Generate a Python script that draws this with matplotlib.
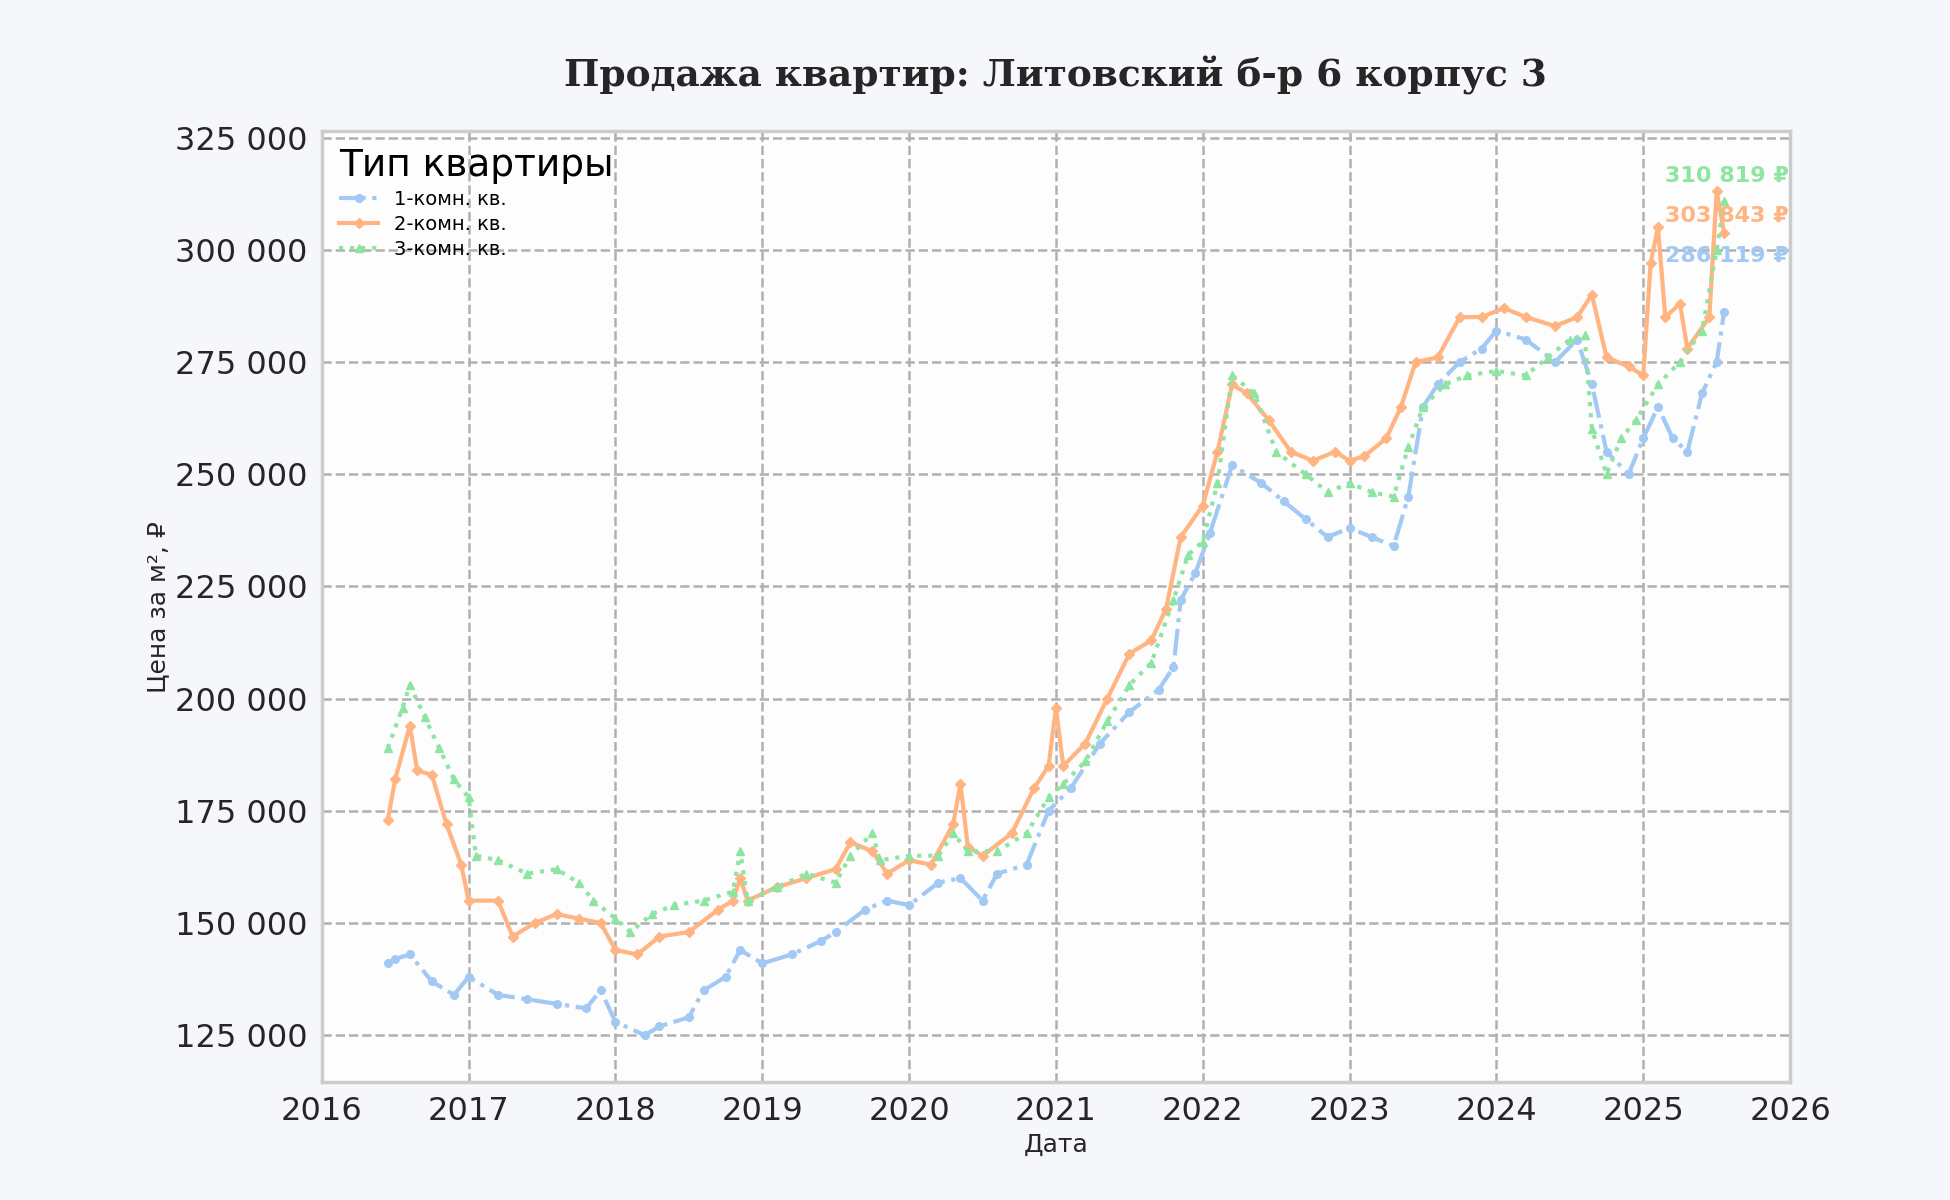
import matplotlib
matplotlib.use("Agg")
import matplotlib.pyplot as plt
import matplotlib.ticker as mticker

# years as decimal, prices per m2
t1 = [2016.45, 2016.5, 2016.6, 2016.75, 2016.9, 2017.0, 2017.2, 2017.4, 2017.6, 2017.8, 2017.9, 2018.0,
      2018.2, 2018.3, 2018.5, 2018.6, 2018.75, 2018.85, 2019.0, 2019.2, 2019.4, 2019.5, 2019.7, 2019.85,
      2020.0, 2020.2, 2020.35, 2020.5, 2020.6, 2020.8, 2020.95, 2021.1, 2021.3, 2021.5, 2021.7, 2021.8,
      2021.85, 2021.95, 2022.05, 2022.2, 2022.4, 2022.55, 2022.7, 2022.85, 2023.0, 2023.15, 2023.3, 2023.4,
      2023.5, 2023.6, 2023.75, 2023.9, 2024.0, 2024.2, 2024.4, 2024.55, 2024.65, 2024.75, 2024.9, 2025.0,
      2025.1, 2025.2, 2025.3, 2025.4, 2025.5, 2025.55]
p1 = [141000, 142000, 143000, 137000, 134000, 138000, 134000, 133000, 132000, 131000, 135000, 128000,
      125000, 127000, 129000, 135000, 138000, 144000, 141000, 143000, 146000, 148000, 153000, 155000,
      154000, 159000, 160000, 155000, 161000, 163000, 175000, 180000, 190000, 197000, 202000, 207000,
      222000, 228000, 237000, 252000, 248000, 244000, 240000, 236000, 238000, 236000, 234000, 245000,
      265000, 270000, 275000, 278000, 282000, 280000, 275000, 280000, 270000, 255000, 250000, 258000,
      265000, 258000, 255000, 268000, 275000, 286119]

t2 = [2016.45, 2016.5, 2016.6, 2016.65, 2016.75, 2016.85, 2016.95, 2017.0, 2017.2, 2017.3, 2017.45, 2017.6,
      2017.75, 2017.9, 2018.0, 2018.15, 2018.3, 2018.5, 2018.7, 2018.8, 2018.85, 2018.9, 2019.1, 2019.3,
      2019.5, 2019.6, 2019.75, 2019.85, 2020.0, 2020.15, 2020.3, 2020.35, 2020.4, 2020.5, 2020.7, 2020.85,
      2020.95, 2021.0, 2021.05, 2021.2, 2021.35, 2021.5, 2021.65, 2021.75, 2021.85, 2022.0, 2022.1, 2022.2,
      2022.3, 2022.45, 2022.6, 2022.75, 2022.9, 2023.0, 2023.1, 2023.25, 2023.35, 2023.45, 2023.6, 2023.75,
      2023.9, 2024.05, 2024.2, 2024.4, 2024.55, 2024.65, 2024.75, 2024.9, 2025.0, 2025.05, 2025.1, 2025.15,
      2025.25, 2025.3, 2025.45, 2025.5, 2025.55]
p2 = [173000, 182000, 194000, 184000, 183000, 172000, 163000, 155000, 155000, 147000, 150000, 152000,
      151000, 150000, 144000, 143000, 147000, 148000, 153000, 155000, 160000, 155000, 158000, 160000,
      162000, 168000, 166000, 161000, 164000, 163000, 172000, 181000, 167000, 165000, 170000, 180000,
      185000, 198000, 185000, 190000, 200000, 210000, 213000, 220000, 236000, 243000, 255000, 270000,
      268000, 262000, 255000, 253000, 255000, 253000, 254000, 258000, 265000, 275000, 276000, 285000,
      285000, 287000, 285000, 283000, 285000, 290000, 276000, 274000, 272000, 297000, 305000, 285000,
      288000, 278000, 285000, 313000, 303843]

t3 = [2016.45, 2016.55, 2016.6, 2016.7, 2016.8, 2016.9, 2017.0, 2017.05, 2017.2, 2017.4, 2017.6, 2017.75,
      2017.85, 2018.0, 2018.1, 2018.25, 2018.4, 2018.6, 2018.8, 2018.85, 2018.9, 2019.1, 2019.3, 2019.5,
      2019.6, 2019.75, 2019.8, 2020.0, 2020.2, 2020.3, 2020.4, 2020.6, 2020.8, 2020.95, 2021.05, 2021.2,
      2021.35, 2021.5, 2021.65, 2021.8, 2021.9, 2022.0, 2022.1, 2022.2, 2022.35, 2022.5, 2022.7, 2022.85,
      2023.0, 2023.15, 2023.3, 2023.4, 2023.5, 2023.65, 2023.8, 2024.0, 2024.2, 2024.35, 2024.5, 2024.6,
      2024.65, 2024.75, 2024.85, 2024.95, 2025.1, 2025.25, 2025.4, 2025.5, 2025.55]
p3 = [189000, 198000, 203000, 196000, 189000, 182000, 178000, 165000, 164000, 161000, 162000, 159000,
      155000, 151000, 148000, 152000, 154000, 155000, 157000, 166000, 155000, 158000, 161000, 159000,
      165000, 170000, 164000, 165000, 165000, 170000, 166000, 166000, 170000, 178000, 181000, 186000,
      195000, 203000, 208000, 222000, 232000, 235000, 248000, 272000, 268000, 255000, 250000, 246000,
      248000, 246000, 245000, 256000, 265000, 270000, 272000, 273000, 272000, 276000, 280000, 281000,
      260000, 250000, 258000, 262000, 270000, 275000, 282000, 300000, 310819]

series = [
    (t1, p1, "1-комн. кв.", "#a1c9f4", "-.", "o", 298500),
    (t2, p2, "2-комн. кв.", "#ffb482", "-", "D", 307500),
    (t3, p3, "3-комн. кв.", "#8de5a1", ":", "^", 316500),
]
years = list(range(2016, 2027))

fig = plt.figure(figsize=(19.5, 12), dpi=100)
fig.patch.set_facecolor("#f6f7fb")
ax = fig.add_axes([0.165, 0.098, 0.753, 0.793])
ax.set_facecolor("#fdfdfd")

for t, p, lab, col, ls, mk, ypos in series:
    ax.plot(t, p, linestyle=ls, marker=mk, color=col, linewidth=3, markersize=5.5, label=lab)
    ax.text(2025.99, ypos, f"{p[-1]:,}".replace(",", " ") + " ₽", color=col, fontsize=16,
            fontweight="bold", ha="right", va="center")

ax.set_xlim(2016, 2026)
ax.set_ylim(114500, 326500)
ax.set_xticks(years)
ax.set_xticklabels([str(y) for y in years])
ax.yaxis.set_major_locator(mticker.MultipleLocator(25000))
ax.yaxis.set_major_formatter(mticker.FuncFormatter(lambda v, _: f"{int(v):,}".replace(",", " ")))
ax.tick_params(labelsize=23, colors="#262626", length=0, pad=10)
ax.grid(True, linestyle="--", color="#b0b0b0", linewidth=1.8)
for s in ax.spines.values():
    s.set_color("#cccccc")
    s.set_linewidth(2.5)

ax.set_title("Продажа квартир: Литовский б-р 6 корпус 3", fontsize=27, fontweight="bold",
             family="DejaVu Serif", pad=32, color="#262626")
ax.set_xlabel("Дата", fontsize=18, color="#262626")
ax.set_ylabel("Цена за м², ₽", fontsize=18, color="#262626")

leg = ax.legend(title="Тип квартиры", loc="upper left", fontsize=14, title_fontsize=27,
                frameon=False, alignment="left", labelspacing=0.3)
leg._legend_handle_box.set_offset(lambda w, h, xd, yd, r: (45, 0))
fig.savefig("out.png", dpi=100, facecolor=fig.get_facecolor())
